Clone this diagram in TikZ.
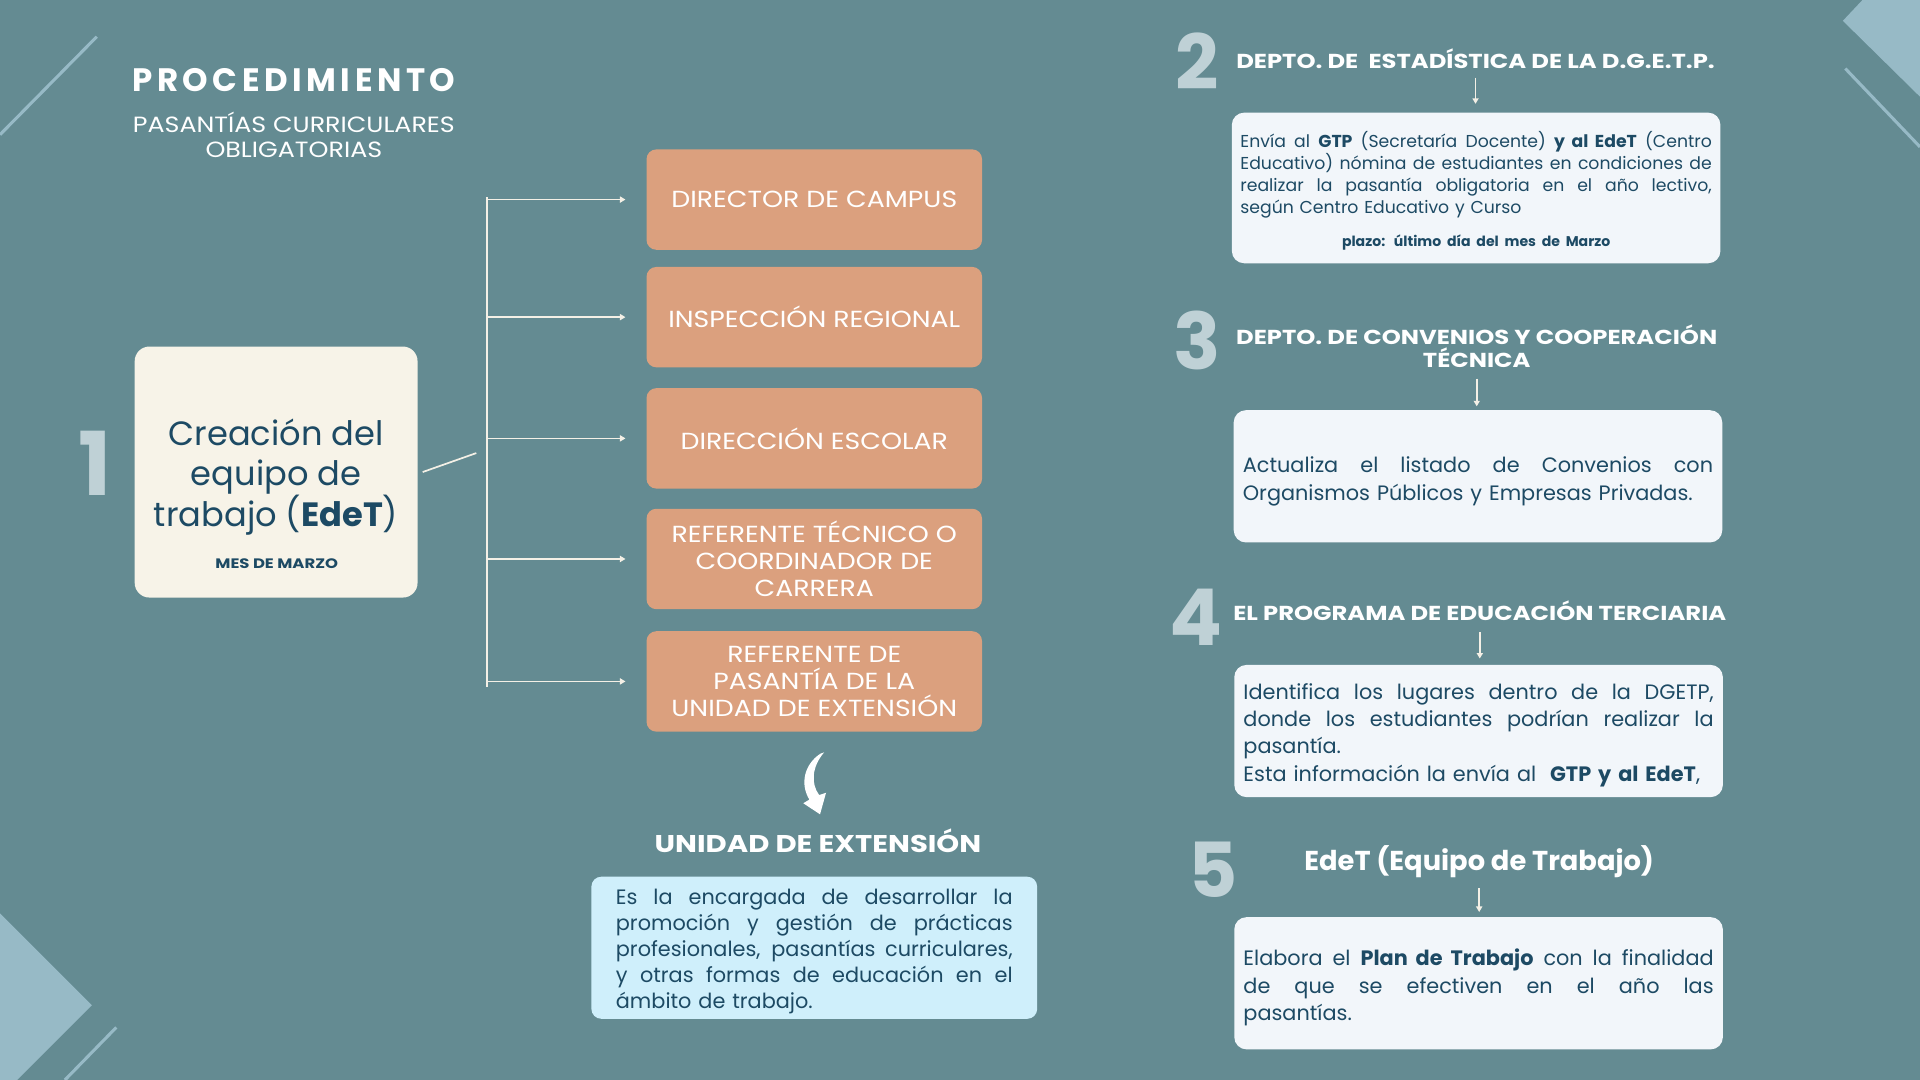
\documentclass[tikz,border=0pt]{standalone}
\usepackage{fontspec}
\setmainfont{Poppins}
\newfontfamily\spacedfont[LetterSpace=14]{Poppins}
\newfontfamily\capsfont[FakeStretch=1.15]{Poppins}
\newfontfamily\boldcaps[FakeStretch=1.2]{Poppins}
\usetikzlibrary{arrows.meta,positioning}
\definecolor{fondo}{HTML}{648B92}
\definecolor{esquina}{HTML}{97BAC6}
\definecolor{salmon}{HTML}{DBA07E}
\definecolor{crema}{HTML}{F7F3E8}
\definecolor{blanco}{HTML}{F2F6FA}
\definecolor{celeste}{HTML}{CFEFFB}
\definecolor{azul}{HTML}{1D4A64}
\definecolor{numero}{HTML}{BFD1D6}
\definecolor{linea}{HTML}{F4F0E6}
% justified line (TikZ fixes \spaceskip in ragged nodes, so reset it)
\newcommand{\jline}[2]{{\spaceskip=0pt\xspaceskip=0pt\makebox[#1][s]{#2}}}
% taller first line, pushes the text block down a little
\newcommand{\tope}[1]{\rule{0pt}{#1}}

\begin{document}
\begin{tikzpicture}[x=1pt,y=-1pt,
	caja/.style={rectangle,rounded corners=8pt,fill=salmon,text=white,minimum width=274pt,minimum height=82pt,inner sep=0pt,align=center,font=\capsfont\fontsize{19}{22}\selectfont},
	nota/.style={rectangle,rounded corners=10pt,fill=blanco,text=azul,minimum width=399pt,minimum height=108pt,inner sep=0pt,text width=384pt,align=left,font=\fontsize{17}{22.3}\selectfont},
	paso/.style={text=white,inner sep=0pt,align=center,font=\boldcaps\bfseries\fontsize{16.5}{19}\selectfont},
	num/.style={text=numero,inner sep=0pt,font=\bfseries\fontsize{62}{62}\selectfont},
	flecha/.style={draw=linea,line width=1.4pt,-{Triangle[length=4.5pt,width=5pt]}}]
	\useasboundingbox (0,0) rectangle (1568,882);
	\fill[fondo] (0,0) rectangle (1568,882);
	\fill[esquina] (1521,0) -- (1505,17) -- (1568,79) -- (1568,0) -- cycle;
	\fill[esquina] (0,746) -- (75,821) -- (14,882) -- (0,882) -- cycle;
	\draw[esquina,line width=2.5pt] (0,110) -- (79,30);
	\draw[esquina,line width=2.5pt] (1507,56) -- (1568,120);
	\draw[esquina,line width=2.5pt] (95,839) -- (53,882);
	
	\node[text=white,inner sep=0pt,font=\spacedfont\bfseries\fontsize{26.5}{26}\selectfont] (titulo) at (240,65) {PROCEDIMIENTO};
	\node[text=white,inner sep=0pt,align=center,font=\capsfont\fontsize{18}{20}\selectfont] (subtitulo) at (240,110) {PASANTÍAS CURRICULARES\\OBLIGATORIAS};
	
	% paso 1
	\node[num,font=\bfseries\fontsize{72}{72}\selectfont] (n1) at (78,378) {1};
	\node[rectangle,rounded corners=12pt,fill=crema,text=azul,minimum width=231pt,minimum height=205pt,align=center,font=\fontsize{27.5}{32.5}\selectfont] (creacion) at (225.5,385.5) {\tope{30pt}Creación del\\equipo de\\trabajo (\textbf{EdeT})};
	\node[text=azul,inner sep=0pt,font=\boldcaps\bfseries\fontsize{11.2}{12}\selectfont] (mes) at (226,460) {MES DE MARZO};
	
	\node[caja] (campus) at (665,163) {DIRECTOR DE CAMPUS};
	\node[caja] (inspeccion) at (665,259) {INSPECCIÓN REGIONAL};
	\node[caja] (direccion) at (665,358) {DIRECCIÓN ESCOLAR};
	\node[caja] (tecnico) at (665,456.5) {REFERENTE TÉCNICO O\\COORDINADOR DE\\CARRERA};
	\node[caja] (pasantia) at (665,556.5) {REFERENTE DE\\PASANTÍA DE LA\\UNIDAD DE EXTENSIÓN};
	
	\coordinate (bus) at (398,161);
	\coordinate (busfin) at (398,561);
	\coordinate (codo) at (389,370);
	\draw[linea,line width=1.4pt] (bus) -- (busfin);
	\draw[linea,line width=1.4pt] ([xshift=4pt]creacion.east) -- (codo);
	\foreach \c in {campus,inspeccion,direccion,tecnico,pasantia}
	\draw[flecha,shorten >=17pt] (bus |- \c.west) -- (\c.west);
	
	% curved arrow down to the Unidad de Extension
	\fill[white] (670,615.5) .. controls (657,624) and (653,640) .. (661,653) -- (656,656) -- (669.7,665) -- (674.6,647.4) -- (669,649.3) .. controls (662,640) and (663,626) .. (673,614.5) -- cycle;
	\node[paso,font=\boldcaps\bfseries\fontsize{19.8}{22}\selectfont] (unidad) at (668,687) {UNIDAD DE EXTENSIÓN};
	\node[nota,fill=celeste,rounded corners=8pt,minimum width=364pt,minimum height=116pt,text width=324pt,font=\fontsize{17}{21.3}\selectfont] (funcion) at (665,774) {\tope{19pt}\jline{324pt}{Es la encargada de desarrollar la}\\\jline{324pt}{promoción y gestión de prácticas}\\\jline{324pt}{profesionales, pasantías curriculares,}\\\jline{324pt}{y otras formas de educación en el}\\ámbito de trabajo.};
	
	% paso 2
	\node[num] (n2) at (978,50) {2};
	\node[paso] (h2) at (1205,48) {DEPTO. DE \ ESTADÍSTICA DE LA D.G.E.T.P.};
	\node[nota,minimum height=123pt,text width=385pt,font=\fontsize{14.1}{18}\selectfont] (b2) at (1205.5,153.5) {\tope{17.5pt}\jline{385pt}{Envía al \textbf{GTP} (Secretaría Docente) \textbf{y al EdeT} (Centro}\\\jline{385pt}{Educativo) nómina de estudiantes en condiciones de}\\\jline{385pt}{realizar la pasantía obligatoria en el año lectivo,}\\según Centro Educativo y Curso\\[9pt]\makebox[385pt]{\bfseries\fontsize{11.5}{14}\selectfont plazo: último día del mes de Marzo}};
	\draw[flecha,shorten <=7pt,shorten >=7pt] (h2.south) -- (h2.south |- b2.north);
	
	% paso 3
	\node[num,font=\bfseries\fontsize{64}{64}\selectfont] (n3) at (978,278) {3};
	\node[paso] (h3) at (1206,282.5) {DEPTO. DE CONVENIOS Y COOPERACIÓN\\TÉCNICA};
	\node[nota] (b3) at (1207,389) {\tope{21pt}\jline{384pt}{Actualiza el listado de Convenios con}\\Organismos Públicos y Empresas Privadas.};
	\draw[flecha,shorten <=9pt,shorten >=3pt] (h3.south) -- (h3.south |- b3.north);
	
	% paso 4
	\node[num,font=\bfseries\fontsize{64}{64}\selectfont] (n4) at (977,504) {4};
	\node[paso] (h4) at (1208.5,499) {EL PROGRAMA DE EDUCACIÓN TERCIARIA};
	\node[nota] (b4) at (1207.5,597) {\tope{19.5pt}\jline{384pt}{Identifica los lugares dentro de la DGETP,}\\\jline{384pt}{donde los estudiantes podrían realizar la}\\pasantía.\\Esta información la envía al \ \textbf{GTP y al EdeT},};
	\draw[flecha,shorten <=9pt,shorten >=5pt] (h4.south) -- (h4.south |- b4.north);
	
	% paso 5
	\node[num] (n5) at (991,710) {5};
	\node[paso,font=\bfseries\fontsize{22.3}{24}\selectfont] (h5) at (1208,704) {EdeT (Equipo de Trabajo)};
	\node[nota] (b5) at (1207.5,803) {\tope{20.5pt}\jline{384pt}{Elabora el \textbf{Plan de Trabajo} con la finalidad}\\\jline{384pt}{de que se efectiven en el año las}\\pasantías.};
	\draw[flecha,shorten <=8pt,shorten >=4pt] (h5.south) -- (h5.south |- b5.north);
\end{tikzpicture}
\end{document}
